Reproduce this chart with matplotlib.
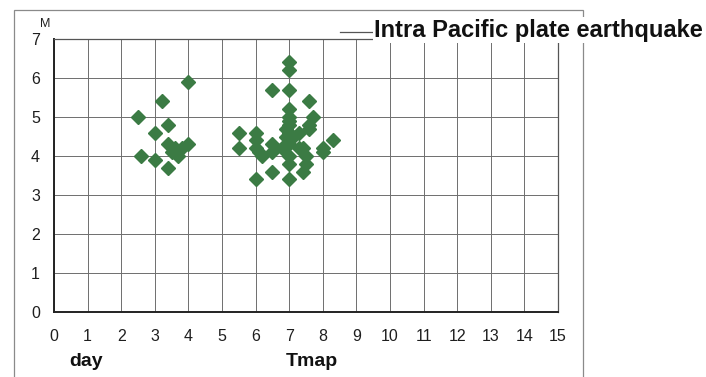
import matplotlib
matplotlib.use("Agg")
import matplotlib.pyplot as plt
from matplotlib.lines import Line2D
from matplotlib.patches import Rectangle

# Elapsed days (Tmap) and magnitude of each event
days = [2.5, 3.2, 4.0, 3.4, 3.0, 2.6, 3.0, 3.4, 3.4, 3.6, 3.7, 3.8, 4.0, 3.5,
        7.0, 7.0, 6.5, 7.0, 7.6, 7.0, 7.0, 7.7, 7.6, 5.5, 5.5, 6.0, 6.0, 6.0,
        6.2, 6.5, 6.5, 6.9, 6.9, 7.0, 7.1, 7.3, 7.6, 7.3, 7.4, 7.0, 7.0, 7.5,
        7.5, 7.4, 6.5, 7.0, 6.0, 8.0, 8.0, 8.3, 7.0, 7.0, 6.1, 6.8, 7.0, 7.0]
magnitude = [5.0, 5.4, 5.9, 4.8, 4.6, 4.0, 3.9, 3.7, 4.3, 4.2, 4.0, 4.2, 4.3, 4.1,
             6.4, 6.2, 5.7, 5.7, 5.4, 5.2, 5.0, 5.0, 4.8, 4.6, 4.2, 4.6, 4.4, 4.2,
             4.0, 4.3, 4.1, 4.7, 4.5, 4.3, 4.5, 4.6, 4.7, 4.2, 4.2, 4.0, 3.8, 4.0,
             3.8, 3.6, 3.6, 3.4, 3.4, 4.2, 4.1, 4.4, 4.8, 4.6, 4.1, 4.2, 4.9, 4.4]

x_ticks = list(range(0, 16))
y_ticks = list(range(0, 8))

W, H = 706, 377
fig = plt.figure(figsize=(W / 100, H / 100), dpi=100)
fig.patch.set_facecolor("white")

ax = fig.add_axes([54 / W, 1 - 312 / H, (558 - 54) / W, (312 - 39) / H])
ax.set_xlim(0, 15)
ax.set_ylim(0, 7)
ax.set_xticks(x_ticks)
ax.set_yticks(y_ticks)
ax.grid(True, color="#6e6e6e", linewidth=0.7)
ax.set_axisbelow(True)
ax.tick_params(length=0, labelsize=11.5, colors="#1e1e1e")
ax.tick_params(axis="x", pad=12)
ax.tick_params(axis="y", pad=10)
for lab in ax.get_xticklabels() + ax.get_yticklabels():
    lab.set_family(["Liberation Sans", "DejaVu Sans"])
for side in ("left", "bottom"):
    ax.spines[side].set_color("#222222")
    ax.spines[side].set_linewidth(1.4)
for side in ("top", "right"):
    ax.spines[side].set_color("#555555")
    ax.spines[side].set_linewidth(0.9)

ax.plot(days, magnitude, linestyle="none", marker="D", markersize=6.8,
        color="#3b7b44", markeredgecolor="#3b7b44", zorder=3, clip_on=False)

# Outer frame around the panel
fig.add_artist(Rectangle((14 / W, -0.05), (583 - 14) / W, 1.05 - 10 / H,
                         transform=fig.transFigure, fill=False,
                         edgecolor="#8a8a8a", linewidth=0.9))
fig.add_artist(Line2D([340 / W, 372 / W], [1 - 32 / H, 1 - 32 / H],
                      transform=fig.transFigure, color="#555555", linewidth=0.9))

fig.text(703 / W, 1 - 30 / H, "Intra Pacific plate earthquake",
         ha="right", va="center", fontsize=17, fontweight="bold",
         family=["Liberation Sans", "DejaVu Sans"],
         color="#111111",
         bbox=dict(facecolor="white", edgecolor="none", pad=1))

fig.text(45 / W, 1 - 24 / H, "M", ha="center", va="center", fontsize=9,
         family=["Liberation Sans", "DejaVu Sans"], color="#222222")
fig.text(86 / W, 1 - 362 / H, "day", ha="center", va="center", fontsize=14,
         fontweight="bold", family=["Liberation Sans", "DejaVu Sans"],
         color="#111111")
fig.text(312 / W, 1 - 362 / H, "Tmap", ha="center", va="center", fontsize=14,
         fontweight="bold", family=["Liberation Sans", "DejaVu Sans"],
         color="#111111")

fig.savefig("out.png", dpi=100, facecolor="white")
